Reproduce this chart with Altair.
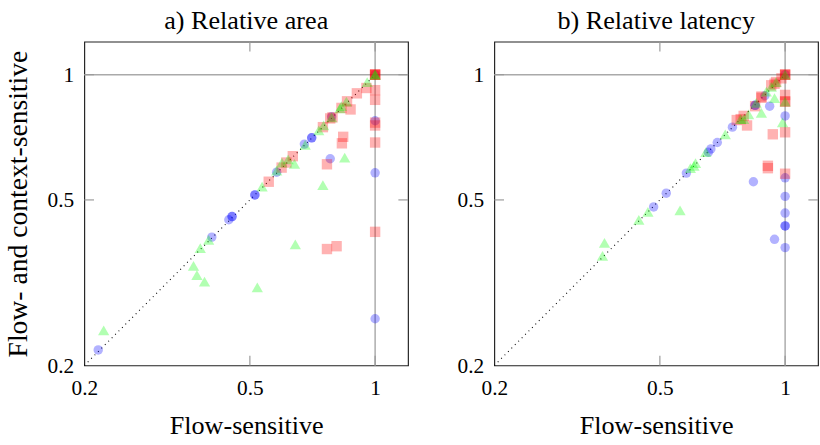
import altair as alt
import pandas as pd

# ---------------- data: a) Relative area ----------------
a_blue_x = [0.216, 0.405, 0.445, 0.453, 0.453, 0.514, 0.514, 0.580, 0.676, 0.704, 0.704,
            0.786, 0.780, 1.0, 1.0, 1.0, 1.0]
a_blue_y = [0.218, 0.407, 0.448, 0.456, 0.456, 0.514, 0.514, 0.583, 0.681, 0.705, 0.705,
            0.792, 0.628, 0.775, 0.581, 0.259, 1.0]

a_red_x = [1.0, 1.0, 1.0, 1.0, 1.0, 1.0, 0.953, 0.904, 0.873, 0.856, 0.830, 0.790, 0.780,
           0.749, 1.0, 1.0, 1.0, 0.838, 0.832, 0.766, 0.634, 0.612, 0.596, 0.555, 1.0,
           0.766, 0.808]
a_red_y = [1.0, 1.0, 1.0, 1.0, 0.918, 0.870, 0.929, 0.902, 0.825, 0.863, 0.832, 0.790, 0.785,
           0.748, 0.767, 0.755, 0.687, 0.709, 0.684, 0.609, 0.637, 0.615, 0.598, 0.553, 0.419,
           0.381, 0.387]

a_green_x = [0.2226, 0.380, 0.398, 0.366, 0.373, 0.389, 0.521, 0.643, 0.749, 0.845, 0.535,
             0.580, 0.597, 0.618, 0.640, 0.679, 0.732, 0.752, 0.786, 0.823, 0.830, 0.853,
             0.957, 1.0, 1.0]
a_green_y = [0.243, 0.383, 0.401, 0.347, 0.330, 0.318, 0.308, 0.391, 0.543, 0.632, 0.538,
             0.588, 0.615, 0.626, 0.610, 0.678, 0.735, 0.755, 0.790, 0.830, 0.840, 0.862,
             0.960, 1.0, 1.0]

# ---------------- data: b) Relative latency ----------------
b_blue_x = [0.483, 0.518, 0.579, 0.654, 0.663, 0.687, 0.747, 0.847, 0.847, 0.894, 0.918,
            0.839, 0.943, 1.0, 1.0, 1.0, 1.0, 1.0, 1.0, 1.0, 1.0]
b_blue_y = [0.481, 0.519, 0.580, 0.651, 0.663, 0.687, 0.748, 0.844, 0.844, 0.890, 0.840,
            0.553, 0.402, 0.796, 0.565, 0.510, 0.465, 0.433, 0.433, 0.384, 1.0]

b_red_x = [1.0, 1.0, 1.0, 0.980, 0.951, 0.943, 0.926, 0.877, 0.877, 0.847, 0.810, 0.795,
           0.782, 0.765, 0.934, 1.0, 1.0, 1.0, 1.0, 0.909, 0.909, 1.0]
b_red_y = [1.0, 1.0, 1.0, 0.980, 0.960, 0.951, 0.943, 0.886, 0.880, 0.840, 0.755, 0.796,
           0.782, 0.778, 0.719, 0.727, 0.894, 0.862, 0.862, 0.596, 0.604, 0.578]

b_green_x = [0.364, 0.368, 0.445, 0.468, 0.559, 0.592, 0.604, 0.609, 0.645, 0.718, 0.782,
             0.795, 0.817, 0.852, 0.877, 0.901, 0.926, 0.943, 0.951, 0.986, 1.0, 1.0]
b_green_y = [0.367, 0.394, 0.448, 0.468, 0.472, 0.596, 0.604, 0.613, 0.651, 0.719, 0.782,
             0.782, 0.803, 0.855, 0.810, 0.910, 0.935, 0.878, 0.960, 0.768, 0.862, 1.0]

tick_values = [0.2, 0.5, 1]
inner_ticks = [0.5, 1]
diag = [0.2, 1.0]

FONT = "Liberation Serif"
DOM = [0.2, 1.2]
W = 334
H = 334
TL = 10


def panel(title, bx, by, rx, ry, gx, gy, ytitle):
    xsc = alt.Scale(type="log", domain=DOM, nice=False, zero=False)
    ysc = alt.Scale(type="log", domain=DOM, nice=False, zero=False)
    xaxis = alt.Axis(values=tick_values, format="~g", ticks=False, grid=False, domain=False,
                     labelFont=FONT, labelFontSize=22, labelColor="black", labelPadding=13,
                     labelFlush=False, labelOverlap=False,
                     titleFont=FONT, titleFontSize=27, titleFontWeight="normal",
                     titleColor="black", titlePadding=15)
    yaxis = alt.Axis(values=tick_values, format="~g", ticks=False, grid=False, domain=False,
                     labelFont=FONT, labelFontSize=22, labelColor="black", labelPadding=11,
                     labelFlush=False, labelOverlap=False,
                     titleFont=FONT, titleFontSize=28.5, titleFontWeight="normal",
                     titleColor="black", titlePadding=15)

    def X(field):
        return alt.X(field, type="quantitative", scale=xsc, axis=xaxis, title="Flow-sensitive")

    def Y(field):
        if ytitle:
            return alt.Y(field, type="quantitative", scale=ysc, axis=yaxis, title=ytitle)
        return alt.Y(field, type="quantitative", scale=ysc, axis=yaxis, title=None)

    tdf = pd.DataFrame({"v": inner_ticks})
    one = pd.DataFrame({"v": [1.0]})
    ddf = pd.DataFrame({"x": diag, "y": diag})

    gridx = alt.Chart(one).mark_rule(color="#aaaaaa", strokeWidth=1.5).encode(
        x=X("v"), y=alt.value(0), y2=alt.value(H))
    gridy = alt.Chart(one).mark_rule(color="#aaaaaa", strokeWidth=1.5).encode(
        y=Y("v"), x=alt.value(0), x2=alt.value(W))

    tb = alt.Chart(tdf).mark_rule(color="#999999", strokeWidth=1.2).encode(
        x=X("v"), y=alt.value(H), y2=alt.value(H - TL))
    tt = alt.Chart(tdf).mark_rule(color="#999999", strokeWidth=1.2).encode(
        x=X("v"), y=alt.value(0), y2=alt.value(TL))
    tlft = alt.Chart(tdf).mark_rule(color="#999999", strokeWidth=1.2).encode(
        y=Y("v"), x=alt.value(0), x2=alt.value(TL))
    trgt = alt.Chart(tdf).mark_rule(color="#999999", strokeWidth=1.2).encode(
        y=Y("v"), x=alt.value(W), x2=alt.value(W - TL))

    dline = alt.Chart(ddf).mark_line(color="black", strokeWidth=1.1, strokeDash=[1, 4]).encode(
        x=X("x"), y=Y("y"))

    def pts(xs, ys, mark):
        df = pd.DataFrame({"x": xs, "y": ys})
        return alt.Chart(df).mark_point(**mark).encode(x=X("x"), y=Y("y"))

    blue = pts(bx, by, dict(shape="circle", filled=True, color="#0000ff", opacity=0.3, size=95, strokeWidth=0))
    red = pts(rx, ry, dict(shape="square", filled=True, color="#ff0000", opacity=0.3, size=115, strokeWidth=0))
    green = pts(gx, gy, dict(shape="triangle-up", filled=True, color="#00ff00", opacity=0.3, size=135, strokeWidth=0))

    return alt.layer(gridx, gridy, tb, tt, tlft, trgt, dline, blue, red, green).properties(
        width=W, height=H,
        title=alt.TitleParams(title, font=FONT, fontSize=27, fontWeight="normal",
                              color="black", anchor="middle", offset=6))


pa = panel("a) Relative area", a_blue_x, a_blue_y, a_red_x, a_red_y, a_green_x, a_green_y,
           "Flow- and context-sensitive")
pb = panel("b) Relative latency", b_blue_x, b_blue_y, b_red_x, b_red_y, b_green_x, b_green_y,
           None)

chart = alt.hconcat(pa, pb, spacing=47).properties(
    padding={"left": 3, "top": 0, "right": 0, "bottom": 0}
).configure_view(stroke="#222222", strokeWidth=1.2)

chart.save("out.html", embed_options={"renderer": "svg", "actions": False})
